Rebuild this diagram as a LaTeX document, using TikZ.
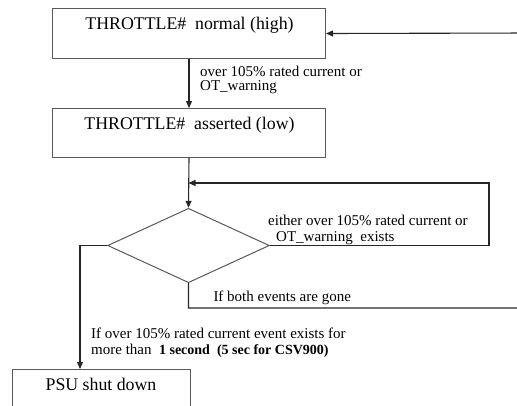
\documentclass[tikz,border=0pt]{standalone}
\usepackage{fontspec}
\setmainfont{Liberation Serif}
\usetikzlibrary{shapes.geometric,arrows.meta}
\begin{document}
\begin{tikzpicture}[x=1pt,y=-1pt,
  boxnode/.style={draw=black!65, line width=1pt, inner sep=0pt, anchor=north west},
  boxtext/.style={font=\fontsize{17.8}{20}\selectfont, anchor=base, inner sep=0pt},
  lbl/.style={font=\fontsize{15}{15}\selectfont, anchor=base west, inner sep=0pt},
  flow/.style={draw=black!85, line width=1.1pt},
  arr/.style={flow, -{Triangle[length=7pt,width=6pt]}},
  dia/.style={draw=black!65, line width=1pt, diamond, inner sep=0pt, aspect=2.17,
     minimum width=161.7pt, minimum height=74.4pt}
]
\useasboundingbox (0,0) rectangle (517,405);

% boxes
\node[boxnode, minimum width=273pt, minimum height=50pt] (b1) at (52,8) {};
\node[boxtext] (t1) at (189.5,29) {THROTTLE\#\hspace{0.5em}normal (high)};
\node[boxnode, minimum width=273pt, minimum height=49pt] (b2) at (52,108) {};
\node[boxtext] (t2) at (189.5,129) {THROTTLE\#\hspace{0.5em}asserted (low)};
\node[dia] (d) at (188.5,245.5) {};
\node[boxnode, minimum width=178pt, minimum height=60pt] (p) at (12,369) {};
\node[boxtext] (t3) at (101,390) {PSU shut down};

% coordinates
\coordinate (j) at (188.5,183);
\coordinate (r1) at (489,245.5);
\coordinate (r2) at (489,183);
\coordinate (l1) at (80,245.5);
\coordinate (q1) at (188.5,308);
\coordinate (q2) at (530,308);
\coordinate (q3) at (530,33);

% connectors
\draw[arr] (b1.south) -- (b2.north);
\draw[arr] (b2.south) -- (d.north);
\draw[arr] (d.east) -- (r1) -- (r2) -- (j);
\draw[arr] (d.west) -- (l1) -- (l1 |- p.north);
\draw[arr] (d.south) -- (q1) -- (q2) -- (q3) -- (b1.east);

% labels
\node[lbl] (a1) at (200,76) {over 105\% rated current or};
\node[lbl] (a2) at (200,90.7) {OT\_warning};
\node[lbl] (c1) at (268,225.7) {either over 105\% rated current or};
\node[lbl] (c2) at (276,241) {OT\_warning\ \ exists};
\node[lbl] (e1) at (213.3,301) {If both events are gone};
\node[lbl] (f1) at (91,338.3) {If over 105\% rated current event exists for};
\node[lbl] (f2) at (91,354) {more than \ {\bfseries\fontsize{14}{14}\selectfont 1 second\hspace{0.5em}(5 sec for CSV900)}};
\end{tikzpicture}
\end{document}
